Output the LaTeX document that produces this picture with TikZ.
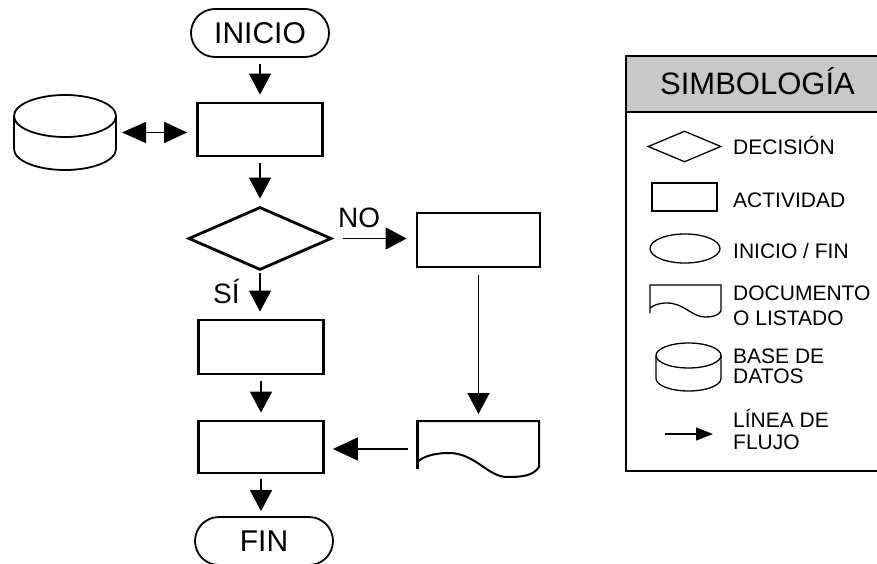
\documentclass[tikz,border=0pt]{standalone}
\usepackage{fontspec}
\setmainfont{Liberation Sans}
\usetikzlibrary{arrows.meta,shapes.geometric}
\definecolor{hdr}{RGB}{200,200,200}
\tikzset{
  flow/.style={line width=1.4pt,-{Triangle[length=21pt,width=22pt]},shorten >=7pt,shorten <=6pt},
  actbox/.style={draw,line width=2.8pt,minimum width=125pt,minimum height=53pt,inner sep=0pt},
  term/.style={draw,line width=1.8pt,rounded corners=24pt,minimum width=138pt,minimum height=48pt,inner sep=0pt,font=\fontsize{30}{36}\selectfont},
  ghost/.style={inner sep=0pt,outer sep=0pt},
  lbl/.style={anchor=base west,inner sep=0pt,font=\fontsize{28}{32}\selectfont},
  ltxt/.style={anchor=base west,inner sep=0pt,font=\fontsize{21}{24}\selectfont},
  lshape/.style={draw,line width=1.3pt,inner sep=0pt}
}
\begin{document}
\begin{tikzpicture}[x=1pt,y=-1pt]
\useasboundingbox (0,0) rectangle (877,564);
\clip (0,0) rectangle (877,564);
% ---------- flowchart ----------
\node[term] (inicio) at (260,33) {INICIO};
\node[actbox] (b1) at (260,129.5) {};
\node[ghost,minimum width=102pt,minimum height=75pt] (db) at (65,132.5) {};
\draw[line width=1.8pt] (65,116) ellipse [x radius=51pt, y radius=21pt];
\draw[line width=1.8pt] (14,116) -- (14,149) arc[start angle=180,end angle=360,x radius=51pt,y radius=21pt] -- (116,116);
\node[draw,diamond,line width=2.8pt,minimum width=143pt,minimum height=63pt,inner sep=0pt] (dec) at (260,238.5) {};
\node[actbox,minimum width=123pt,minimum height=54pt] (bno) at (478.5,240) {};
\node[actbox,minimum height=54pt] (b2) at (261,347) {};
\node[actbox,minimum height=52pt] (b3) at (261,447) {};
\node[ghost,minimum width=122pt,minimum height=56pt] (doc) at (478,449) {};
\draw[line width=2pt] (417,469) -- (417,421) -- (539,421) -- (539,467)
  .. controls (533,476) and (522,477) .. (507,477)
  .. controls (488,477) and (475,453) .. (449,453)
  .. controls (435,453) and (424,456) .. (417,462);
\draw[line width=3pt] (417,421) -- (417,469);
\node[term] (fin) at (264,541) {FIN};
% connectors
\draw[flow] (inicio.south) -- (inicio.south |- b1.north);
\draw[line width=1.4pt,{Triangle[length=24pt,width=21pt]}-{Triangle[length=23pt,width=21pt]},shorten >=9pt,shorten <=6pt] (db.east) -- (db.east -| b1.west);
\draw[flow] (b1.south) -- (b1.south |- dec.north);
\draw[flow,shorten >=9pt,shorten <=10pt] (dec.east) -- (dec.east -| bno.west);
\draw[flow,shorten <=2pt] (dec.south) -- (dec.south |- b2.north);
\draw[flow] (b2.south) -- (b2.south |- b3.north);
\draw[flow,shorten <=7pt] (bno.south) -- (bno.south |- doc.north);
\draw[flow,line width=1.6pt,-{Triangle[length=25pt,width=23pt]},shorten >=8pt,shorten <=9pt] (doc.west) -- (doc.west -| b3.east);
\draw[flow,shorten >=5pt,shorten <=5pt] (b3.south) -- (b3.south |- fin.north);
\node[lbl] (no) at (338,227) {NO};
\node[lbl] (si) at (213,303) {SÍ};
% ---------- legend ----------
\node[draw,line width=2pt,anchor=north west,minimum width=256pt,minimum height=415pt,inner sep=0pt] (leg) at (625,55) {};
\node[draw,fill=hdr,line width=2pt,anchor=north west,minimum width=256pt,minimum height=56pt,inner sep=0pt] (hdr) at (625,55) {};
\node[anchor=base,inner sep=0pt,font=\fontsize{31}{36}\selectfont] (tit) at (757.5,95) {SIMBOLOGÍA};
\node[lshape,diamond,minimum width=73pt,minimum height=31pt] (ldec) at (684.5,146.5) {};
\node[ltxt] (tdec) at (733,155) {DECISIÓN};
\node[lshape,minimum width=65pt,minimum height=28pt] (lact) at (684.5,197) {};
\node[ltxt] (tact) at (733,207) {ACTIVIDAD};
\node[lshape,ellipse,minimum width=70pt,minimum height=29pt] (lell) at (685,248.5) {};
\node[ltxt] (tell) at (733,258) {INICIO / FIN};
\node[ghost,minimum width=71pt,minimum height=32pt] (ldoc) at (685.5,301) {};
\draw[line width=1.3pt] (650,313) -- (650,285) -- (721,285) -- (721,311)
  .. controls (718,316) and (712,317) .. (705,317)
  .. controls (692,317) and (684,303) .. (667,303)
  .. controls (659,303) and (654,305) .. (650,308);
\node[ltxt] (tdoc1) at (733,300) {DOCUMENTO};
\node[ltxt] (tdoc2) at (733,325) {O LISTADO};
\node[ghost,minimum width=65pt,minimum height=48pt] (ldb) at (688.5,367) {};
\draw[line width=1.3pt] (688.5,355.5) ellipse [x radius=32.5pt, y radius=12.5pt];
\draw[line width=1.3pt] (656,355.5) -- (656,378.5) arc[start angle=180,end angle=360,x radius=32.5pt,y radius=12.5pt] -- (721,355.5);
\node[ltxt] (tdb1) at (733,363) {BASE DE};
\node[ltxt] (tdb2) at (733,383) {DATOS};
\coordinate (la1) at (665,434);
\coordinate (la2) at (713,434);
\draw[line width=1.3pt,-{Triangle[length=17pt,width=13pt]}] (la1) -- (la2);
\node[ltxt] (tfl1) at (733,427) {LÍNEA DE};
\node[ltxt] (tfl2) at (733,449) {FLUJO};
\end{tikzpicture}
\end{document}
